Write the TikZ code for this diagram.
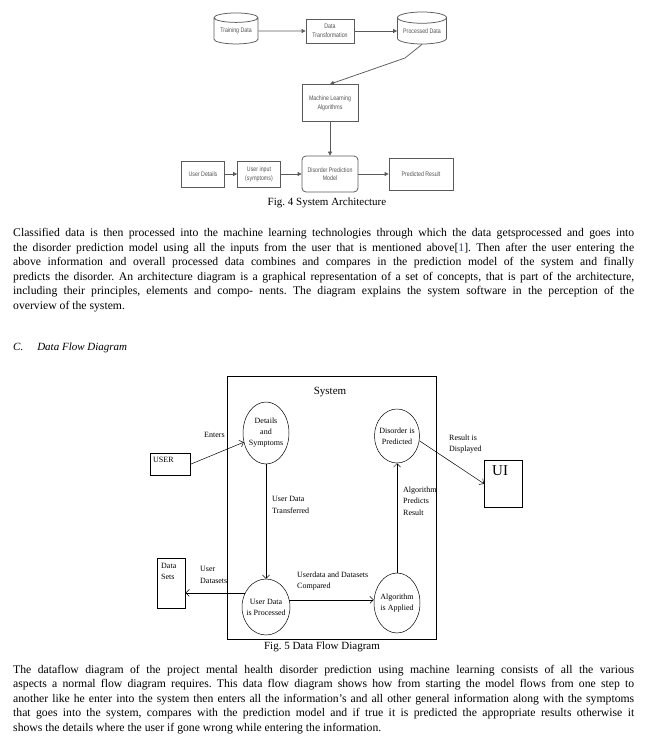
\documentclass[tikz,border=0pt]{standalone}
\usepackage{fontspec}
\setmainfont{Liberation Serif}
\newfontfamily\archfont[FakeStretch=0.8]{Liberation Sans}
\usetikzlibrary{arrows.meta,shapes.geometric,positioning}
\definecolor{archgray}{HTML}{5A5A5A}
\definecolor{citeblue}{HTML}{2040C0}
\frenchspacing

\begin{document}
\begin{tikzpicture}[x=1pt, y=-1pt,
  archbox/.style={draw=archgray, line width=0.75pt, text=archgray!90!black, align=center, inner sep=0,
    font=\archfont\fontsize{6.6}{8.6}\selectfont},
  archdb/.style={archbox, cylinder, shape border rotate=90, aspect=0.3},
  archarrow/.style={-{Triangle[length=4pt,width=4pt]}, draw=archgray, line width=0.75pt},
  bubble/.style={draw, ellipse, inner sep=0, line width=0.5pt},
  bubtext/.style={align=center, inner sep=0, font=\fontsize{8}{11}\selectfont},
  extbox/.style={draw, inner sep=0, line width=0.5pt, anchor=north west},
  boxtext/.style={anchor=north west, inner sep=0, align=left},
  flowlabel/.style={align=left, inner sep=0, anchor=west, font=\fontsize{8}{11.5}\selectfont},
  dfarrow/.style={-{Straight Barb[length=3.5pt,width=7pt]}, line width=0.5pt},
  caption/.style={font=\fontsize{11}{13}\selectfont},
  bodytext/.style={anchor=north west, inner sep=0, text width=621pt, align=justify}]
  \useasboundingbox (0,0) rectangle (650,751);

  % System architecture
  \node (td) [archdb, minimum width=44, minimum height=31] at (236,31) {Training Data};
  \node (dt) [archbox, minimum width=48, minimum height=24] at (330,31) {Data\\Transformation};
  \node (pd) [archdb, minimum width=49, minimum height=32] at (422,31) {Processed Data};
  \node (ml) [archbox, minimum width=56, minimum height=37] at (330,103) {Machine Learning\\Algorithms};
  \coordinate (kink) at (405,58);

  \node (ud) [archbox, minimum width=43, minimum height=26] at (203,174) {User Details};
  \node (uin) [archbox, minimum width=43, minimum height=26] at (259,174) {User input\\(symptoms)};
  \node (dpm) [archbox, rounded corners=4pt, minimum width=56, minimum height=36] at (330,174) {Disorder Prediction\\Model};
  \node (pr) [archbox, minimum width=64, minimum height=32] at (421,174) {Predicted Result};

  \draw[archarrow] (td) -- (dt);
  \draw[archarrow] (dt) -- (pd);
  \draw[archarrow] (pd.south) -- (kink) -- (ml.north);
  \draw[archarrow] (ml) -- (dpm);
  \draw[archarrow] (ud) -- (uin);
  \draw[archarrow] (uin) -- (dpm);
  \draw[archarrow] (dpm) -- (pr);

  \node (fig4) [caption] at (327,203) {Fig. 4 System Architecture};

  \node (para1) [bodytext, font=\fontsize{11.7}{14.6}\selectfont] at (13,228) {Classified data is then processed into the machine learning technologies through which the data getsprocessed and goes into\linebreak
  the disorder prediction model using all the inputs from the user that is mentioned above[\textcolor{citeblue}{1}]. Then after the user entering the\linebreak
  above information and overall processed data combines and compares in the prediction model of the system and finally\linebreak
  predicts the disorder. An architecture diagram is a graphical representation of a set of concepts, that is part of the architecture,\linebreak
  including their principles, elements and compo- nents. The diagram explains the system software in the perception of the\linebreak
  overview of the system.};

  \node (head) [anchor=west, inner sep=0, font=\fontsize{11}{13}\selectfont\itshape] at (13,348) {C.\hspace{14pt}Data Flow Diagram};

  % Data flow diagram
  \node (sys) [extbox, minimum width=209, minimum height=263] at (227,376) {};
  \node (systitle) [caption] at (330,392) {System};

  \node (det) [bubble, minimum width=46, minimum height=62,
    label={[bubtext]center:{Details\\and\\Symptoms}}] at (266,433) {};
  \node (udp) [bubble, minimum width=48, minimum height=56,
    label={[bubtext]center:{User Data\\is Processed}}] at (266,607) {};
  \node (alg) [bubble, minimum width=46, minimum height=60,
    label={[bubtext]center:{Algorithm\\is Applied}}] at (397,603) {};
  \node (dp) [bubble, minimum width=45, minimum height=54,
    label={[bubtext]center:{Disorder is\\Predicted}}] at (397,436) {};

  \node (user) [extbox, minimum width=40, minimum height=22,
    label={[boxtext, font=\fontsize{8}{10}\selectfont, xshift=3pt, yshift=-4pt]north west:{USER}}] at (150,453) {};
  \node (ds) [extbox, minimum width=28, minimum height=50,
    label={[boxtext, font=\fontsize{8}{11}\selectfont, xshift=4pt, yshift=-5pt]north west:{Data\\Sets}}] at (157,558) {};
  \node (ui) [extbox, minimum width=38, minimum height=47,
    label={[boxtext, font=\fontsize{15}{17}\selectfont, xshift=8pt, yshift=-5pt]north west:{UI}}] at (484,460) {};

  % Flows
  \draw[dfarrow] (user.east) -- (det);
  \draw[dfarrow] (det.south) -- (udp.north);
  \draw[dfarrow] (udp.146) -- (udp.146 -| ds.east);
  \draw[dfarrow] (udp.17) -- (udp.17 -| alg.west);
  \draw[dfarrow] (alg.north) -- (dp.south);
  \draw[dfarrow] (dp.-12) -- (ui.west);

  \node (enters) [flowlabel] at (204,435) {Enters};
  \node (transf) [flowlabel] at (272,505) {User Data\\Transferred};
  \node (udsets) [flowlabel] at (200,575) {User\\Datasets};
  \node (compared) [flowlabel] at (297,581) {Userdata and Datasets\\Compared};
  \node (predicts) [flowlabel] at (403,501) {Algorithm\\Predicts\\Result};
  \node (shown) [flowlabel] at (449,444) {Result is\\Displayed};

  \node (fig5) [caption] at (322,647) {Fig. 5 Data Flow Diagram};

  \node (para2) [bodytext, font=\fontsize{11.7}{14.5}\selectfont] at (13,665) {The dataflow diagram of the project mental health disorder prediction using machine learning consists of all the various\linebreak
  aspects a normal flow diagram requires. This data flow diagram shows how from starting the model flows from one step to\linebreak
  another like he enter into the system then enters all the information’s and all other general information along with the symptoms\linebreak
  that goes into the system, compares with the prediction model and if true it is predicted the appropriate results otherwise it\linebreak
  shows the details where the user if gone wrong while entering the information.};
\end{tikzpicture}
\end{document}
